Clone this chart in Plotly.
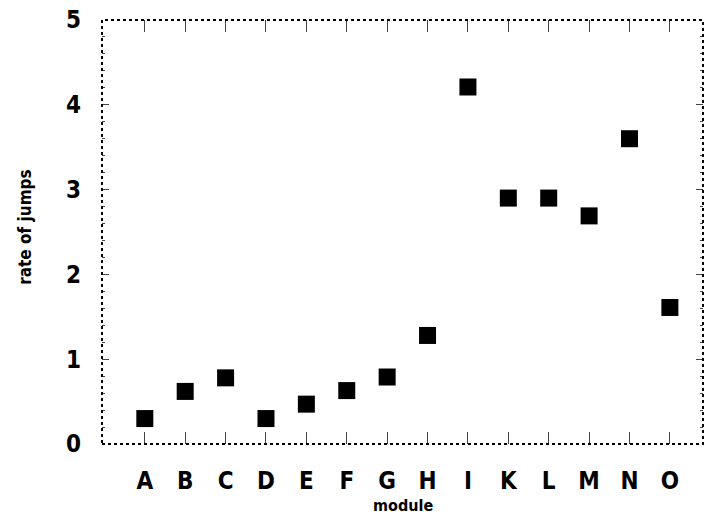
import plotly.graph_objects as go

modules = ["A", "B", "C", "D", "E", "F", "G", "H", "I", "K", "L", "M", "N", "O"]
rates = [0.30, 0.62, 0.78, 0.30, 0.47, 0.63, 0.79, 1.28, 4.21, 2.90, 2.90, 2.69, 3.60, 1.61]
y_ticks = [0, 1, 2, 3, 4, 5]

FONT = "DejaVu Sans Condensed"

fig = go.Figure()
fig.add_trace(go.Scatter(
    x=list(range(len(modules))), y=rates, mode="markers",
    marker=dict(symbol="square", size=17, color="black", line=dict(width=0)),
    showlegend=False, cliponaxis=False,
))

fig.update_layout(
    width=706, height=518,
    margin=dict(l=102, r=3, t=20, b=74, autoexpand=False),
    paper_bgcolor="white", plot_bgcolor="white",
    font=dict(family=FONT, color="black"),
    xaxis=dict(
        range=[-1.06, 13.82], tickmode="array",
        tickvals=list(range(len(modules))), ticktext=modules,
        ticks="inside", ticklen=12, tickwidth=1, tickcolor="#444",
        mirror="ticks", showgrid=False, zeroline=False, showline=False,
        tickfont=dict(family=FONT, size=24, color="black", weight="bold"),
        ticklabelstandoff=20, ticklabeloverflow="allow", automargin=False,
    ),
    yaxis=dict(
        range=[0, 5], tickmode="array", tickvals=y_ticks,
        ticks="inside", ticklen=7, tickwidth=1, tickcolor="#444",
        mirror="ticks", showgrid=False, zeroline=False, showline=False,
        tickfont=dict(family=FONT, size=24, color="black", weight="bold"),
        ticklabelstandoff=20, ticklabeloverflow="allow", automargin=False,
        minor=dict(dtick=0.2, ticks="inside", ticklen=3, tickcolor="#444", tickwidth=1),
    ),
    shapes=[dict(type="rect", xref="paper", yref="paper", x0=0, y0=0, x1=1, y1=1,
                 line=dict(color="black", width=2, dash="dot"), layer="above")],
    annotations=[
        dict(text="<b>module</b>", xref="paper", yref="paper", x=0.5, y=-0.145,
             showarrow=False, font=dict(family=FONT, size=16), xanchor="center", yanchor="middle"),
        dict(text="<b>rate of jumps</b>", xref="paper", yref="paper", x=-0.128, y=0.51,
             showarrow=False, textangle=-90, font=dict(family=FONT, size=17),
             xanchor="center", yanchor="middle"),
    ],
)

fig.write_html("out.html", config={"displayModeBar": False},
               post_script="document.body.style.margin='0';")
